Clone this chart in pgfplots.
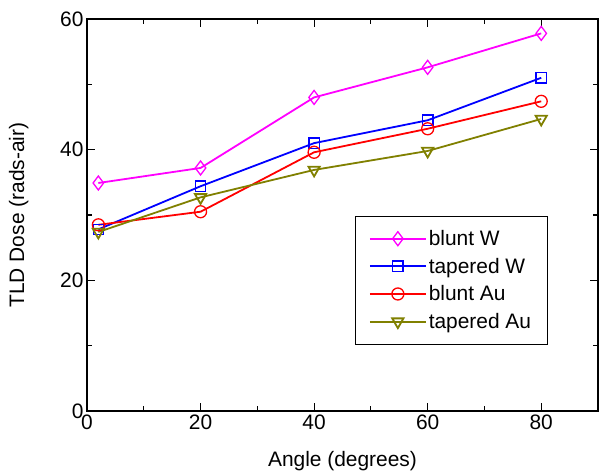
\documentclass[border=0pt]{standalone}
\usepackage{fontspec}
\setmainfont{Liberation Sans}
\usepackage{pgfplots}
\pgfplotsset{compat=1.18}
\definecolor{cMag}{RGB}{255,0,255}
\definecolor{cBlue}{RGB}{0,0,255}
\definecolor{cRed}{RGB}{255,0,0}
\definecolor{cOlive}{RGB}{128,128,0}
\begin{document}
\begin{tikzpicture}
\begin{axis}[
  scale only axis, width=511bp, height=392bp,
  xmin=0, xmax=90, ymin=0, ymax=60,
  xtick={0,20,40,60,80}, ytick={0,20,40,60},
  minor xtick={10,30,50,70,90}, minor ytick={10,30,50},
  tick align=inside, major tick length=8bp, minor tick length=5bp,
  tick style={black, line width=1.2bp},
  axis line style={line width=1.4bp},
  every tick label/.append style={font=\fontsize{21}{24}\selectfont},
  /pgf/number format/assume math mode=true,
  xlabel={Angle (degrees)}, ylabel={TLD Dose (rads-air)},
  label style={font=\fontsize{21}{24}\selectfont},
  xlabel style={yshift=-15bp},
  ylabel style={yshift=25bp},
  legend style={at={(0.524,0.497)}, anchor=north west, draw=black,
    font=\fontsize{21}{24}\selectfont, inner xsep=14bp, inner ysep=12bp, row sep=7bp,
    cells={anchor=west}},
  legend image code/.code={\draw[line width=1.8bp, mark repeat=2,mark phase=2] plot coordinates {(0bp,0bp)(28bp,0bp)(56bp,0bp)};},
  every axis plot/.append style={line width=1.8bp, mark options={solid, line width=1.3bp, fill=white}},
]
\addplot[color=cMag, mark=diamond, mark size=7bp] coordinates {(2,34.9)(20,37.2)(40,48.0)(60,52.6)(80,57.8)};
\addlegendentry{blunt W}
\addplot[color=cBlue, mark=square, mark size=5.2bp] coordinates {(2,27.8)(20,34.4)(40,41.0)(60,44.5)(80,51.0)};
\addlegendentry{tapered W}
\addplot[color=cRed, mark=o, mark size=6bp] coordinates {(2,28.5)(20,30.5)(40,39.6)(60,43.2)(80,47.4)};
\addlegendentry{blunt Au}
\addplot[color=cOlive, mark=triangle, mark size=6.5bp, mark options={rotate=180}] coordinates {(2,27.4)(20,32.7)(40,36.9)(60,39.8)(80,44.7)};
\addlegendentry{tapered Au}
\end{axis}
\pgfresetboundingbox
\path[use as bounding box] (current axis.south west) ++(-87bp,-61bp) rectangle ++(603bp,472bp);
\end{tikzpicture}
\end{document}
